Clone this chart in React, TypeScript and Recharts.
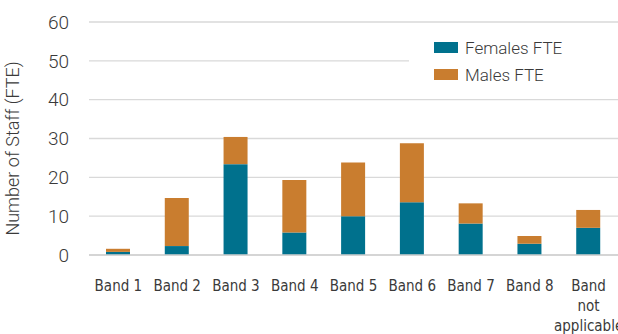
import React from 'react'
import {BarChart, Bar, XAxis, YAxis, CartesianGrid} from 'recharts'

const bands = [
  'Band 1',
  'Band 2',
  'Band 3',
  'Band 4',
  'Band 5',
  'Band 6',
  'Band 7',
  'Band 8',
  'Band not applicable',
]
const femalesFte = [0.8, 2.3, 23.4, 5.8, 10.0, 13.6, 8.1, 2.9, 7.0]
const malesFte = [0.8, 12.4, 7.0, 13.5, 13.8, 15.2, 5.2, 2.0, 4.6]
const yTicks = [0, 10, 20, 30, 40, 50, 60]

const TEAL = '#00718d'
const ORANGE = '#c97d2f'
const TEXT = '#3a3a3a'

const data = bands.map((band, i) => ({
  band,
  females: femalesFte[i],
  males: malesFte[i],
}))

const series = [
  {key: 'females', label: 'Females FTE', color: TEAL},
  {key: 'males', label: 'Males FTE', color: ORANGE},
]

function BandTick({x, y, payload}: any) {
  const words: string[] = payload.value.split(' ')
  // long labels go one word per line
  const lines = words.length > 2 ? words : [payload.value]
  return (
    <text
      x={x}
      y={y}
      textAnchor="middle"
      fill={TEXT}
      fontSize={15}
      fontFamily="'Liberation Sans Narrow', 'DejaVu Sans Condensed', sans-serif"
    >
      {lines.map((line, i) => (
        <tspan key={i} x={x} dy={i === 0 ? 28 : 20}>
          {line}
        </tspan>
      ))}
    </text>
  )
}

// white box laid over the top-right gridlines
function LegendBox() {
  return (
    <div
      style={{
        position: 'absolute',
        left: 409,
        top: 29,
        width: 209,
        height: 62,
        background: '#fff',
        paddingTop: 5,
        paddingLeft: 25,
        boxSizing: 'border-box',
      }}
    >
      {series.map((s) => (
        <div
          key={s.key}
          style={{
            display: 'flex',
            alignItems: 'center',
            height: 27,
            fontFamily: 'Roboto, sans-serif',
            fontWeight: 300,
            fontSize: 17,
            color: TEXT,
          }}
        >
          <span
            style={{
              display: 'inline-block',
              width: 24,
              height: 11,
              background: s.color,
              marginRight: 7,
            }}
          />
          {s.label}
        </div>
      ))}
    </div>
  )
}

export default function App() {
  return (
    <div
      style={{
        position: 'absolute',
        left: 0,
        top: 0,
        width: 618,
        height: 334,
        background: '#fff',
        overflow: 'hidden',
      }}
    >
      <BarChart
        width={618}
        height={334}
        data={data}
        margin={{top: 22, right: 0, bottom: 0, left: 0}}
      >
        <CartesianGrid vertical={false} stroke="#d9d9d9" strokeWidth={1.3} />
        <XAxis
          dataKey="band"
          height={79}
          axisLine={{stroke: '#d0d0d0', strokeWidth: 1.5}}
          tickLine={false}
          interval={0}
          tick={<BandTick />}
        />
        <YAxis
          width={89}
          domain={[0, 60]}
          ticks={yTicks}
          axisLine={false}
          tickLine={false}
          tickMargin={14}
          tick={{
            fill: TEXT,
            fontSize: 19,
            fontWeight: 300,
            fontFamily: 'Roboto, sans-serif',
          }}
          label={{
            value: 'Number  of Staff (FTE)',
            angle: -90,
            position: 'insideLeft',
            dx: 8,
            dy: 10,
            style: {
              textAnchor: 'middle',
              fill: TEXT,
              fontSize: 18,
              fontWeight: 300,
              fontFamily: 'Roboto, sans-serif',
            },
          }}
        />
        {series.map((s) => (
          <Bar
            key={s.key}
            dataKey={s.key}
            name={s.label}
            stackId="fte"
            fill={s.color}
            barSize={24}
            isAnimationActive={false}
          />
        ))}
      </BarChart>
      <LegendBox />
    </div>
  )
}
